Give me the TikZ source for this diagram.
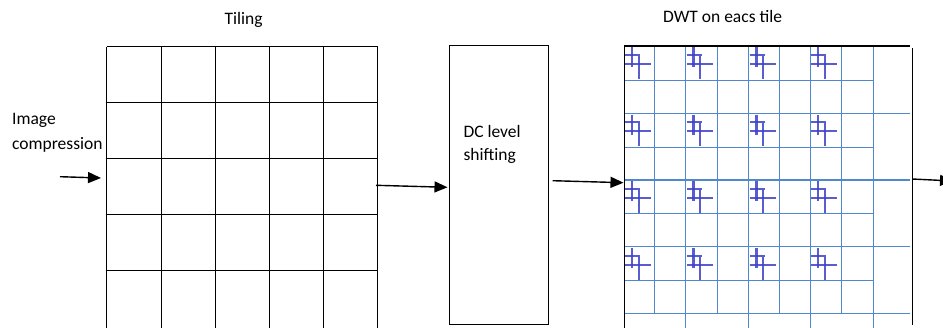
\documentclass[tikz,border=0pt]{standalone}
\usepackage{fontspec}
\setmainfont{Carlito}
\usetikzlibrary{arrows.meta}
\definecolor{gridblue}{RGB}{80,135,205}
\definecolor{markblue}{RGB}{60,65,200}
\tikzset{
  lbl/.style={inner sep=0pt, anchor=base west, font=\fontsize{17.5}{26}\selectfont},
  blk/.style={draw=black, line width=1.1pt},
  bl/.style={draw=gridblue, line width=1.1pt},
  mk/.style={draw=markblue, line width=2.2pt, opacity=0.85},
  flow/.style={draw=black, line width=1.4pt, -{Triangle[length=13pt,width=11pt]}},
  box/.style={draw=black, line width=1.3pt, minimum width=99.4pt, minimum height=278.6pt, inner sep=0pt}
}
\begin{document}
\begin{tikzpicture}[x=1pt,y=-1pt]
\useasboundingbox (0,0) rectangle (943,327);
\clip (0,0) rectangle (943,327);
% titles and labels
\node[lbl] (tiltxt) at (224.5,24) {Tiling};
\node[lbl] (dwttxt) at (663,22.5) {DWT on eacs tile};
\node[lbl] (imgtxt) at (12,124) {Image};
\node[lbl] (comptxt) at (12,149.5) {compression};
% tiling grid
\coordinate (tiling) at (106.5,46.5);
\foreach \x in {106.5,161.5,215.5,269.5,323.5,377.5}
  \draw[blk] (\x,46.5) -- (\x,330);
\foreach \y in {46.5,102.5,158.5,214.5,270.5}
  \draw[blk] (106.5,\y) -- (377.5,\y);
% DC box
\node[box] (dc) at (499,185) {};
\node[lbl] (dctxt1) at (463.3,137.3) {DC level};
\node[lbl] (dctxt2) at (463.3,160.5) {shifting};
% DWT grid
\foreach \x in {654.3,717.3,779.7,841.3}
  \draw[bl] (\x,46) -- (\x,313.7);
\foreach \x in {685.7,748.7,810.3,873.3}
  \draw[bl] (\x,46) -- (\x,330);
\foreach \y in {80.7,147.3,213.7,280.3}
  \draw[bl] (624.3,\y) -- (873.3,\y);
\foreach \y in {113.3,180,246.7,313.7}
  \draw[bl] (624.3,\y) -- (910,\y);
\draw[blk] (624.3,330) -- (624.3,46) -- (910,46);
\draw[blk] (912.3,48) -- (912.3,325);
% marks
\foreach \cx in {624.3,685.7,748.7,810.3}
  \foreach \cy in {46,113.3,180,246.7} {
    \draw[mk] (\cx+7.7,\cy+1.3) -- (\cx+7.7,\cy+21.3);
    \draw[mk] (\cx+14.4,\cy+10) -- (\cx+14.4,\cy+33);
    \draw[mk] (\cx+1,\cy+9) -- (\cx+16,\cy+9);
    \draw[mk] (\cx+1,\cy+18) -- (\cx+27,\cy+18);
  }
% arrows
\coordinate (a1s) at (60,176.7);
\coordinate (a1e) at (101,178);
\coordinate (a2s) at (376,185.3);
\coordinate (a2e) at (447.5,187.3);
\coordinate (a3s) at (552.7,180.7);
\coordinate (a3e) at (623.5,182.7);
\coordinate (a4s) at (912.3,179);
\coordinate (a4e) at (953,181);
\draw[flow] (a1s) -- (a1e);
\draw[flow] (a2s) -- (a2e);
\draw[flow] (a3s) -- (a3e);
\draw[flow] (a4s) -- (a4e);
\end{tikzpicture}
\end{document}
